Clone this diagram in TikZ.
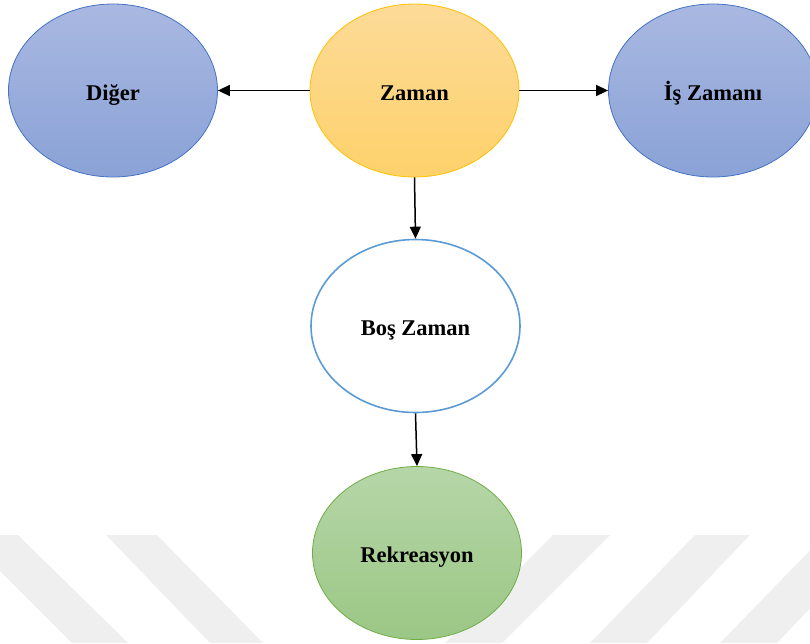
\documentclass[tikz,border=0pt]{standalone}
\usepackage{fontspec}
\setmainfont{Liberation Serif}
\usetikzlibrary{shapes.geometric,arrows.meta}
\definecolor{blueTop}{HTML}{A9B8E1}
\definecolor{blueBot}{HTML}{8AA2D7}
\definecolor{blueLine}{HTML}{4472C4}
\definecolor{goldTop}{HTML}{FDDB98}
\definecolor{goldBot}{HTML}{FDD16B}
\definecolor{goldLine}{HTML}{FFC000}
\definecolor{greenTop}{HTML}{B6D6A8}
\definecolor{greenBot}{HTML}{9BC785}
\definecolor{greenLine}{HTML}{70AD47}
\definecolor{bosLine}{HTML}{5B9BD5}
\definecolor{wm}{HTML}{EFEFEF}
\tikzset{
  oval/.style={ellipse, minimum width=209pt, minimum height=173pt, inner sep=0pt,
    text height=19pt, text depth=0pt,
    font=\fontsize{22.5}{27}\selectfont\bfseries},
  blueoval/.style={oval, top color=blueTop, bottom color=blueBot, draw=blueLine, line width=0.8pt},
  goldoval/.style={oval, top color=goldTop, bottom color=goldBot, draw=goldLine, line width=0.8pt},
  greenoval/.style={oval, top color=greenTop, bottom color=greenBot, draw=greenLine, line width=0.8pt},
  whiteoval/.style={oval, fill=white, draw=bosLine, line width=1.6pt},
  conn/.style={line width=1.5pt, -{Triangle[length=12pt,width=11pt]}},
  wmstripe/.style={fill=wm, draw=none}
}
\begin{document}
\begin{tikzpicture}[x=1pt,y=-1pt]
\useasboundingbox (0,0) rectangle (810,643);
% watermark stripes
\fill[wmstripe] (-36,535) -- (18,535) -- (128,643) -- (72,643) -- cycle;
\fill[wmstripe] (106,535) -- (157,535) -- (263,643) -- (210,643) -- cycle;
\fill[wmstripe] (553,535) -- (610,535) -- (502,643) -- (445,643) -- cycle;
\fill[wmstripe] (695,535) -- (750,535) -- (647,643) -- (590,643) -- cycle;
\fill[wmstripe] (825,535) -- (880,535) -- (777,643) -- (720,643) -- cycle;
% nodes
\node[blueoval] (diger) at (113,90.5) {Diğer};
\node[goldoval] (zaman) at (414.5,90.5) {Zaman};
\node[blueoval] (is) at (713,90.5) {İş Zamanı};
\node[whiteoval] (bos) at (415.5,326) {Boş Zaman};
\node[greenoval] (rek) at (417,553) {Rekreasyon};
% connectors
\draw[conn] (zaman.west) -- (diger.east);
\draw[conn] (zaman.east) -- (is.west);
\draw[conn] (zaman.south) -- (bos.north);
\draw[conn] (bos.south) -- (rek.north);
\end{tikzpicture}
\end{document}
